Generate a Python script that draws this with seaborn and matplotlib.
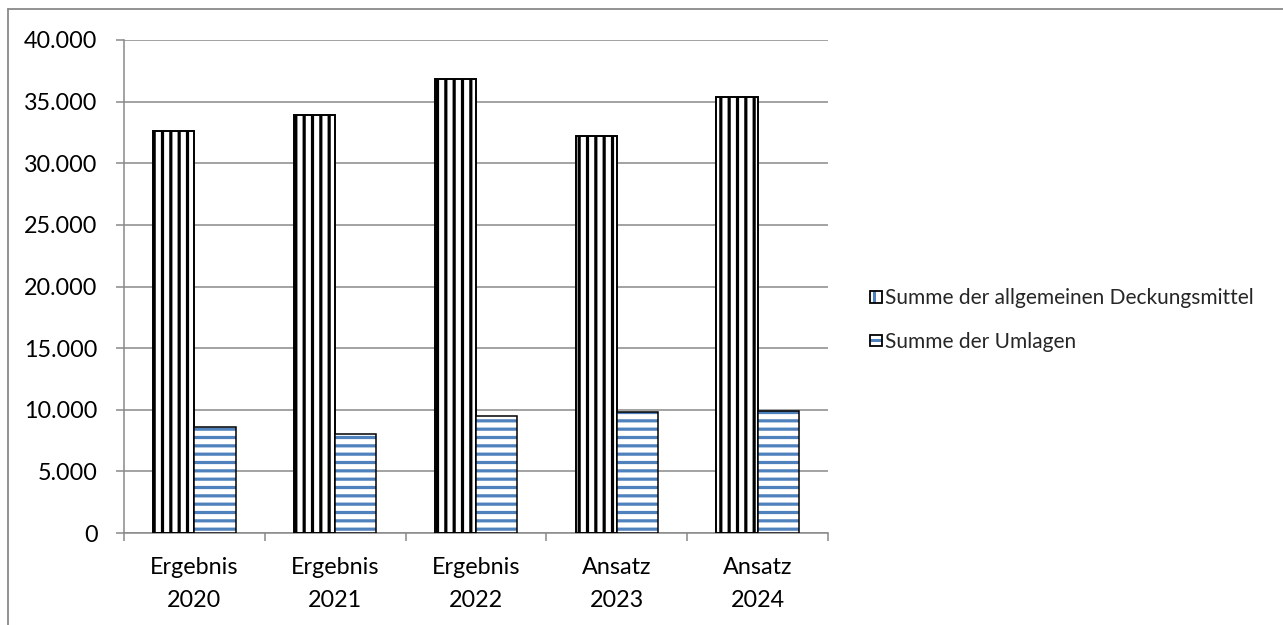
import matplotlib
matplotlib.use("Agg")
import matplotlib.pyplot as plt
import matplotlib.colors as mcolors
from matplotlib.lines import Line2D
from matplotlib.patches import Patch, Rectangle
from matplotlib.legend_handler import HandlerBase
from matplotlib.ticker import FuncFormatter, FixedLocator
import seaborn as sns
import pandas as pd

# Haushaltsdaten (in Tsd. EUR)
kategorien = ["Ergebnis\n2020", "Ergebnis\n2021", "Ergebnis\n2022", "Ansatz\n2023", "Ansatz\n2024"]
reihen = ["Summe der allgemeinen Deckungsmittel", "Summe der Umlagen"]
deckungsmittel = [32650, 33950, 36800, 32200, 35400]
umlagen = [8620, 8030, 9510, 9840, 9920]
y_ticks = [0, 5000, 10000, 15000, 20000, 25000, 30000, 35000, 40000]

BLAU = "#4F81BD"
GRAU = "#898989"

sns.set_theme(style="white")
plt.rcParams["font.family"] = ["Lato", "DejaVu Sans"]
plt.rcParams["hatch.linewidth"] = 2.3

df = pd.DataFrame({
    "Kategorie": kategorien * 2,
    "Reihe": [reihen[0]] * len(kategorien) + [reihen[1]] * len(kategorien),
    "Wert": deckungsmittel + umlagen,
})

fig = plt.figure(figsize=(12.83, 6.25), dpi=100)
ax = fig.add_axes([124 / 1283, 1 - 533 / 625, (828 - 124) / 1283, (533 - 40) / 625])

sns.barplot(data=df, x="Kategorie", y="Wert", hue="Reihe", hue_order=reihen,
            palette=["white", "white"], width=0.585, gap=0, dodge=True,
            edgecolor="black", linewidth=1.4, legend=False, ax=ax, zorder=3)


def hatch_farbe(patch, farbe):
    rgba = mcolors.to_rgba(farbe)
    if hasattr(patch, "set_hatchcolor"):
        patch.set_hatchcolor(rgba)
    else:
        patch._hatch_color = rgba


for p in ax.containers[0]:
    p.set_hatch("||")
    hatch_farbe(p, "black")
for p in ax.containers[1]:
    p.set_hatch("--")
    p.set_linewidth(1.1)
    hatch_farbe(p, BLAU)

ax.set_xlim(-0.5, len(kategorien) - 0.5)
ax.set_ylim(0, 40000)
ax.set_yticks(y_ticks)
ax.yaxis.set_major_formatter(FuncFormatter(lambda v, _: f"{int(v):,}".replace(",", ".")))
ax.set_xlabel("")
ax.set_ylabel("")

ax.grid(axis="y", color=GRAU, linewidth=1.1, zorder=0)
ax.set_axisbelow(True)
for s in ["top", "right"]:
    ax.spines[s].set_visible(False)
for s in ["left", "bottom"]:
    ax.spines[s].set_color(GRAU)
    ax.spines[s].set_linewidth(1.1)

ax.tick_params(axis="y", which="major", length=6, width=1.1, color=GRAU,
               direction="out", left=True, pad=13, labelsize=16.8, labelcolor="black")
ax.tick_params(axis="x", which="major", length=0, pad=17, labelsize=16.8, labelcolor="black")
ax.xaxis.set_minor_locator(FixedLocator([i - 0.5 for i in range(len(kategorien) + 1)]))
ax.tick_params(axis="x", which="minor", length=5.5, width=1.1, color=GRAU,
               direction="out", bottom=True)
for lbl in ax.get_xticklabels():
    lbl.set_linespacing(1.75)


class HandlerStreifen(HandlerBase):
    """Legendensymbol: weißes Kästchen mit blauem Streifen."""

    def __init__(self, senkrecht):
        super().__init__()
        self.senkrecht = senkrecht

    def create_artists(self, legend, orig_handle, xdescent, ydescent,
                       width, height, fontsize, trans):
        s = min(width, height)
        x0, y0 = -xdescent, -ydescent + (height - s) / 2
        if self.senkrecht:
            band = Rectangle((x0 + s * 0.2, y0), s * 0.3, s, facecolor=BLAU,
                             edgecolor="none", transform=trans)
        else:
            band = Rectangle((x0, y0 + s * 0.35), s, s * 0.3, facecolor=BLAU,
                             edgecolor="none", transform=trans)
        rahmen = Rectangle((x0, y0), s, s, facecolor="none", edgecolor="black",
                           linewidth=1.3, transform=trans)
        return [band, rahmen]


griffe = [Patch(facecolor="white", label=reihen[0]), Patch(facecolor="white", label=reihen[1])]
fig.legend(handles=griffe, loc="center left", bbox_to_anchor=(862 / 1283, 1 - 320 / 625),
           frameon=False, fontsize=15, handlelength=0.55, handleheight=0.55,
           handletextpad=0.15, labelspacing=1.12, borderaxespad=0,
           handler_map={griffe[0]: HandlerStreifen(True), griffe[1]: HandlerStreifen(False)})

# Diagrammrahmen
fig.add_artist(Line2D([8 / 1283, 8 / 1283], [0, 1 - 9 / 625], color=GRAU, linewidth=1.3,
                      transform=fig.transFigure))
fig.add_artist(Line2D([8 / 1283, 1], [1 - 9 / 625, 1 - 9 / 625], color=GRAU, linewidth=1.3,
                      transform=fig.transFigure))

fig.savefig("out.png", dpi=100, facecolor="white")
